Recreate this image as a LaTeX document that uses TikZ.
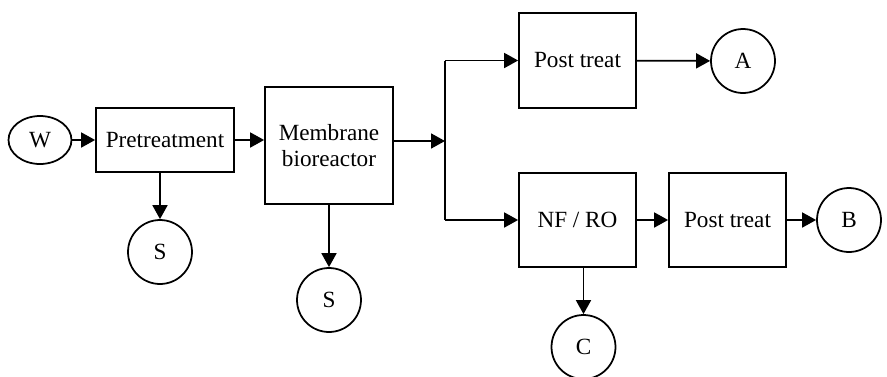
\documentclass[tikz,border=0pt]{standalone}
\usepackage{fontspec}
\setmainfont{Liberation Serif}
\usepackage{tikz}
\usetikzlibrary{arrows.meta, shapes.geometric}

\begin{document}
\begin{tikzpicture}[
  x=0.02cm, y=-0.02cm,
  box/.style={rectangle, draw, line width=1pt, align=center, inner sep=2pt,
              font=\fontsize{13.2}{14.5}\selectfont},
  term/.style={circle, draw, line width=1pt, minimum size=1.28cm, inner sep=0pt,
               font=\fontsize{13.2}{14.5}\selectfont},
  flow/.style={line width=1pt, -{Triangle[length=2.8mm, width=3mm]}},
  link/.style={line width=1pt},
]
\useasboundingbox (0,0) rectangle (887,376);

\node[ellipse, draw, line width=1pt, minimum width=1.26cm, minimum height=0.96cm,
      inner sep=0pt, font=\fontsize{13.2}{14.5}\selectfont] (w) at (40,140) {W};
\node[box, minimum width=2.76cm, minimum height=1.28cm] (pre) at (165,140) {Pretreatment};
\node[term] (s1) at (160,252) {S};
\node[box, minimum width=2.56cm, minimum height=2.34cm] (mbr) at (329,145.5) {Membrane\\bioreactor};
\node[term] (s2) at (329,300) {S};
\coordinate (split) at (445,141);

\node[box, minimum width=2.34cm, minimum height=1.9cm] (post1) at (577.5,60.5) {Post treat};
\node[term] (a) at (743,61) {A};
\node[box, minimum width=2.34cm, minimum height=1.88cm] (nfro) at (577.5,220) {NF / RO};
\node[box, minimum width=2.34cm, minimum height=1.88cm] (post2) at (727.5,220) {Post treat};
\node[term] (b) at (849,220) {B};
\node[term] (c) at (583.5,347) {C};

\draw[flow] (w) -- (pre);
\draw[flow] (pre) -- (pre -| mbr.west);
\draw[flow] (s1 |- pre.south) -- (s1);
\draw[flow] (mbr) -- (s2);
\draw[flow] (mbr.east |- split) -- (split);
\draw[link] (split) -- (split |- post1);
\draw[link] (split) -- (split |- nfro);
\draw[flow] (split |- post1) -- (post1);
\draw[flow] (split |- nfro) -- (nfro);
\draw[flow] (post1) -- (a);
\draw[flow] (nfro) -- (post2);
\draw[flow] (post2) -- (b);
\draw[flow] (c |- nfro.south) -- (c);

\end{tikzpicture}
\end{document}
